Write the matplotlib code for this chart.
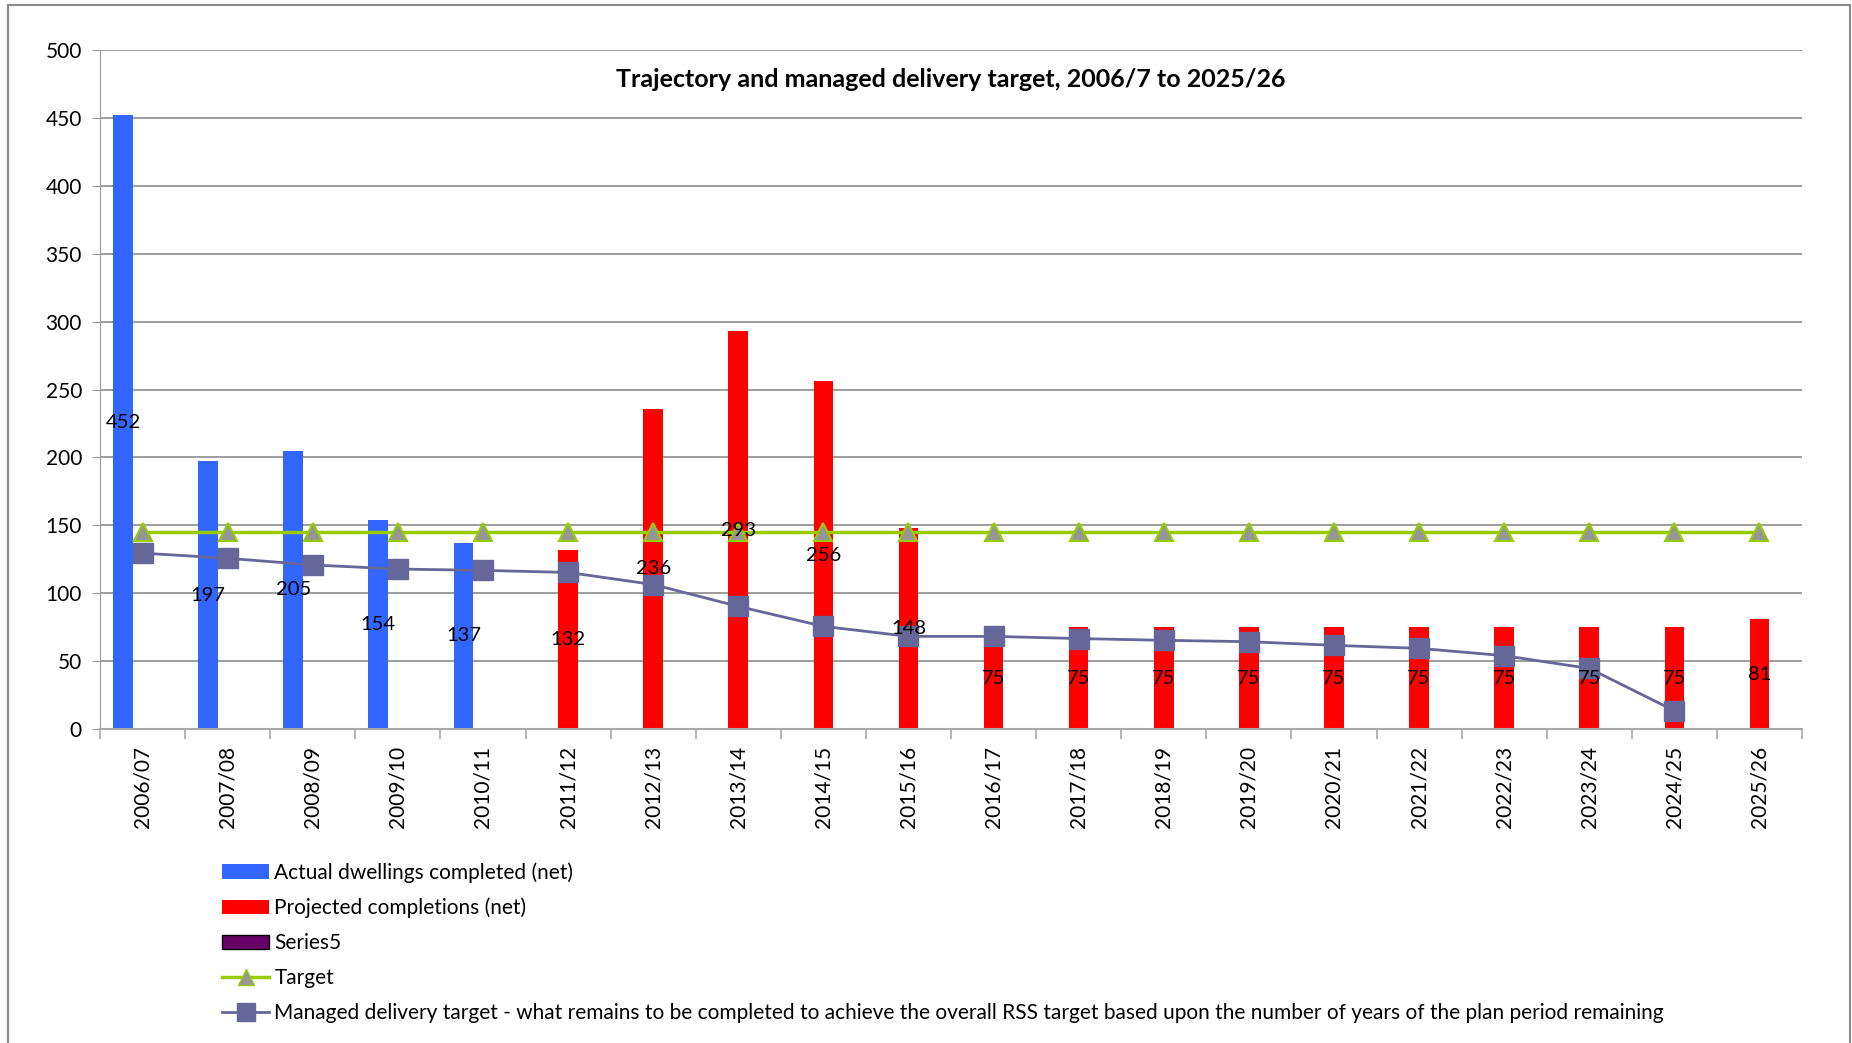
import matplotlib.pyplot as plt
import numpy as np
from matplotlib.patches import Patch, Rectangle
from matplotlib.lines import Line2D

plt.rcParams['font.family'] = ['Lato', 'DejaVu Sans']

years = ['2006/07', '2007/08', '2008/09', '2009/10', '2010/11', '2011/12', '2012/13',
         '2013/14', '2014/15', '2015/16', '2016/17', '2017/18', '2018/19', '2019/20',
         '2020/21', '2021/22', '2022/23', '2023/24', '2024/25', '2025/26']
actual = [452, 197, 205, 154, 137]
projected = [132, 236, 293, 256, 148, 75, 75, 75, 75, 75, 75, 75, 75, 75, 81]
target = [145] * 20
managed = [129.5, 125.7, 120.8, 117.8, 116.8, 115.3, 106.4, 90.3, 75.6, 68.2,
           68.2, 66.6, 65.3, 64.3, 61.6, 59.4, 54.0, 44.6, 13.5]

blue = '#3366FF'
red = '#FF0000'
green = '#99CC00'
purple = '#666699'

fig = plt.figure(figsize=(18.52, 10.43), dpi=100)
ax = fig.add_axes([100/1852, 1-729/1043, 1702/1852, 679/1043])

x = np.arange(len(years))
w = 0.23
b1 = ax.bar(x[:len(actual)] - w, actual, width=w, color=blue, zorder=2)
b2 = ax.bar(x[len(actual):], projected, width=w, color=red, zorder=2)

ax.plot(x, target, color=green, lw=2.5, marker='^', markersize=13,
        markerfacecolor='#969696', markeredgecolor=green, markeredgewidth=1.5, zorder=3)
ax.plot(x[:len(managed)], managed, color=purple, lw=2, marker='s', markersize=15,
        markerfacecolor=purple, markeredgecolor=purple, zorder=4)

for bars in (b1, b2):
    labs = ax.bar_label(bars, label_type='center', fontsize=14.5, color='black')
    for t in labs:
        t.set_zorder(6)

ax.set_xlim(-0.5, len(years) - 0.5)
ax.set_ylim(0, 500)
ax.set_yticks(range(0, 501, 50))
ax.yaxis.grid(True, color='#8c8c8c', lw=1.2)
ax.set_axisbelow(True)
ax.tick_params(axis='y', labelsize=15, length=6, color='#999999', pad=7)

ax.set_xticks(x)
ax.set_xticklabels(years, rotation=90, fontsize=15)
ax.set_xticks(np.arange(-0.5, len(years)), minor=True)
ax.tick_params(axis='x', which='major', length=0, pad=12)
ax.tick_params(axis='x', which='minor', length=7, color='#aaaaaa', width=1.2)

for s in ['top', 'right']:
    ax.spines[s].set_visible(False)
ax.spines['left'].set_color('#999999')
ax.spines['bottom'].set_color('#aaaaaa')
ax.spines['bottom'].set_linewidth(1.5)

ax.text(0.5, 0.956, 'Trajectory and managed delivery target, 2006/7 to 2025/26',
        transform=ax.transAxes, ha='center', va='center', fontsize=18, fontweight='bold')

handles = [
    Patch(facecolor=blue),
    Patch(facecolor=red),
    Patch(facecolor='#660066', edgecolor='black'),
    Line2D([], [], color=green, lw=2.5, marker='^', markersize=11,
           markerfacecolor='#969696', markeredgecolor=green),
    Line2D([], [], color=purple, lw=2, marker='s', markersize=13, markerfacecolor=purple),
]
labels = ['Actual dwellings completed (net)', 'Projected completions (net)', 'Series5', 'Target',
          'Managed delivery target - what remains to be completed to achieve the overall RSS target '
          'based upon the number of years of the plan period remaining']
fig.legend(handles, labels, loc='upper left', bbox_to_anchor=(222/1852, 1-862/1043),
           frameon=False, fontsize=15, handlelength=2.26, handletextpad=0.25,
           labelspacing=0.72, borderpad=0, borderaxespad=0)

fig.patches.append(Rectangle((8/1852, -0.01), 1842/1852, 1.01-5/1043, transform=fig.transFigure,
                             fill=False, edgecolor='#888888', lw=1.5))

fig.savefig('out.png', dpi=100)
